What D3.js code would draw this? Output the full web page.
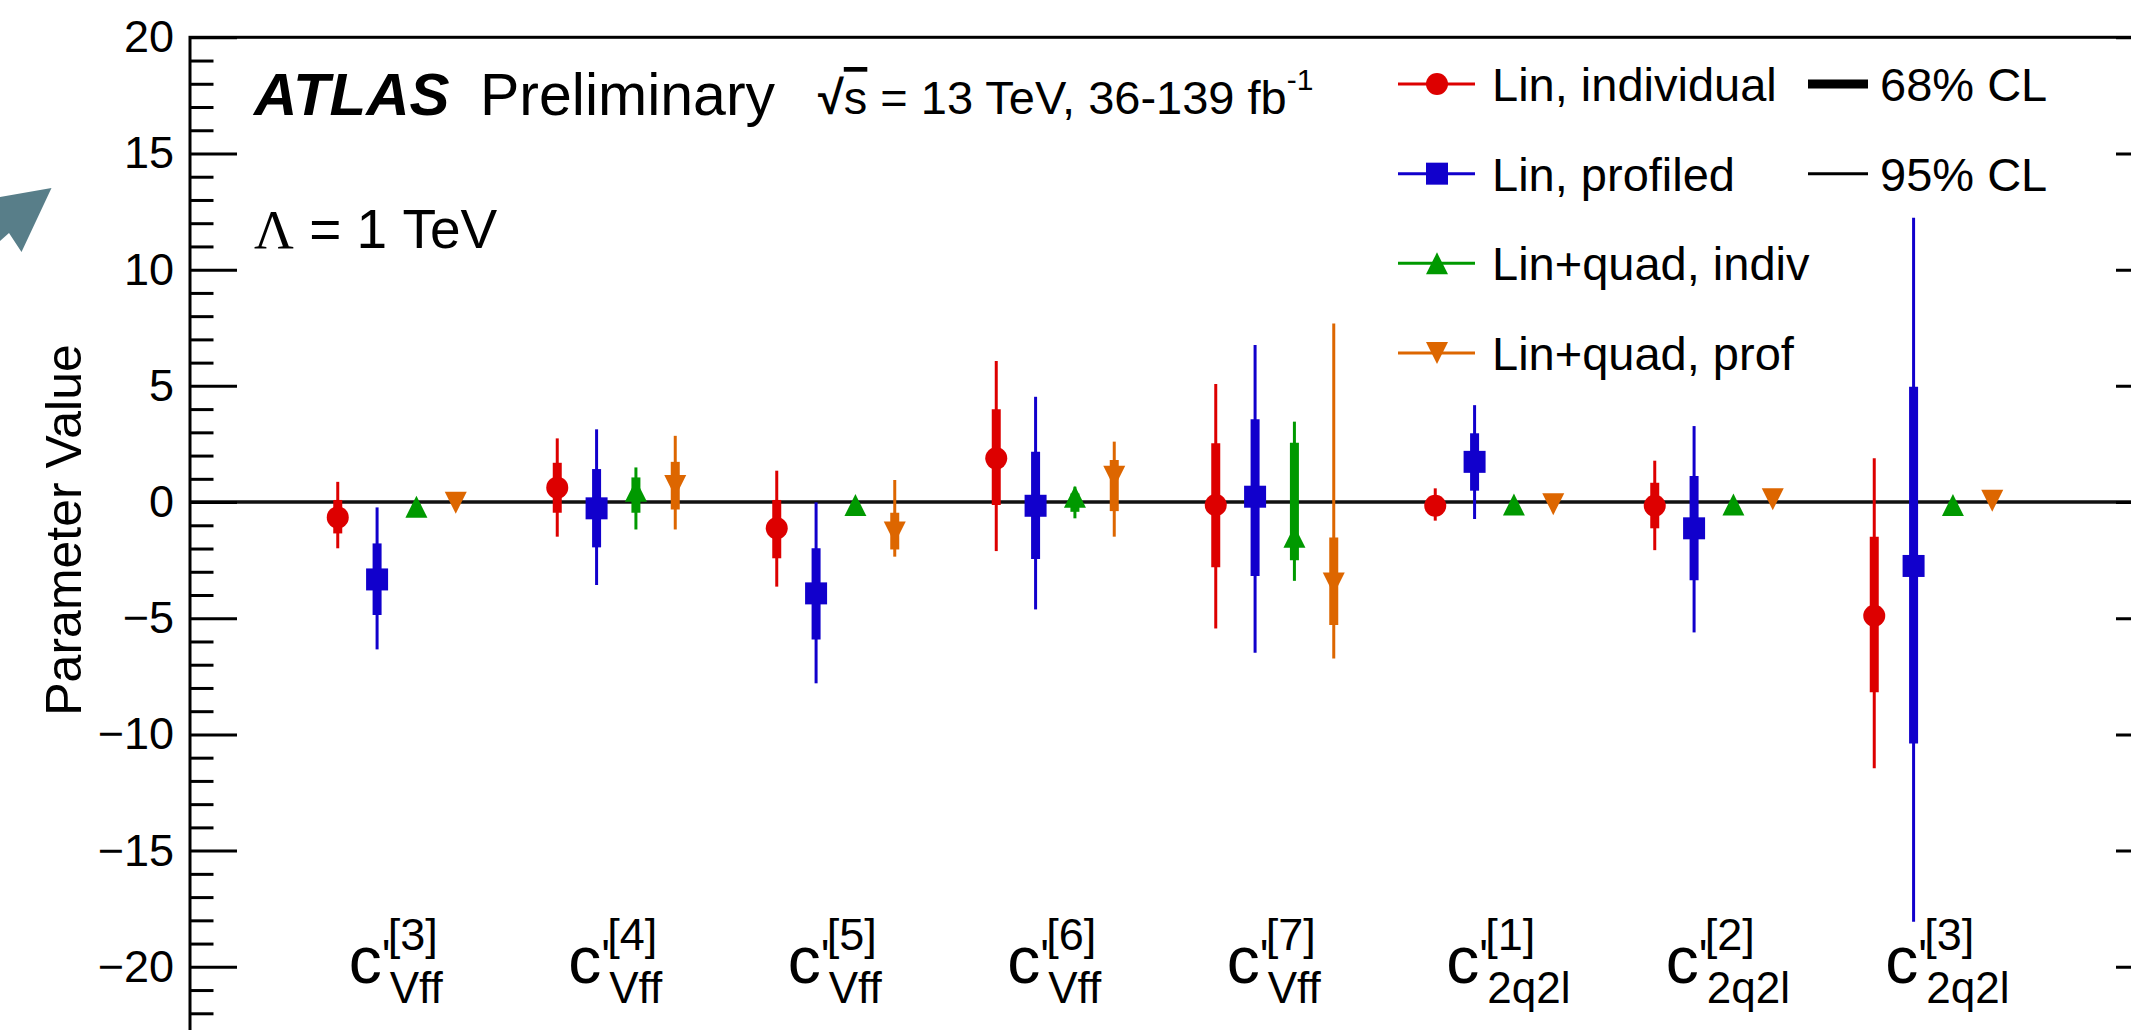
<!DOCTYPE html>
<html>
<head>
<meta charset="utf-8">
<script src="https://cdn.jsdelivr.net/npm/d3@7"></script>
<style>
  body { margin: 0; background: #fff; }
  svg { display: block; font-family: "Liberation Sans", Arial, Helvetica, sans-serif; }
</style>
</head>
<body>
<script>
// categories (x axis bins)
const categories = ["Vff3", "Vff4", "Vff5", "Vff6", "Vff7", "2q2l1", "2q2l2", "2q2l3"];
const labelSup = ["[3]", "[4]", "[5]", "[6]", "[7]", "[1]", "[2]", "[3]"];
const labelSub = ["Vff", "Vff", "Vff", "Vff", "Vff", "2q2l", "2q2l", "2q2l"];

const seriesNames = ["Lin, individual", "Lin, profiled", "Lin+quad, indiv", "Lin+quad, prof"];

// Lin, individual
const linIndiv   = [-0.66, 0.62, -1.13, 1.88, -0.13, -0.16, -0.16, -4.89];
const linIndiv68 = [[-1.35, 0.09], [-0.46, 1.69], [-2.42, 0.09], [-0.13, 3.99], [-2.81, 2.53], [-0.45, 0.15], [-1.13, 0.83], [-8.19, -1.49]];
const linIndiv95 = [[-1.99, 0.87], [-1.49, 2.74], [-3.64, 1.35], [-2.11, 6.07], [-5.44, 5.08], [-0.80, 0.59], [-2.07, 1.78], [-11.46, 1.88]];

// Lin, profiled
const linProf   = [-3.33, -0.27, -3.93, -0.16, 0.23, 1.73, -1.13, -2.75];
const linProf68 = [[-4.86, -1.78], [-1.95, 1.42], [-5.91, -1.99], [-2.45, 2.17], [-3.18, 3.56], [0.49, 2.96], [-3.36, 1.12], [-10.39, 4.96]];
const linProf95 = [[-6.34, -0.23], [-3.57, 3.13], [-7.80, -0.01], [-4.62, 4.53], [-6.49, 6.76], [-0.73, 4.17], [-5.61, 3.27], [-18.06, 12.24]];

// Lin+quad, indiv
const quadIndiv   = [-0.20, 0.49, -0.13, 0.23, -1.49, -0.11, -0.11, -0.13];
const quadIndiv68 = [[-0.30, -0.10], [-0.46, 1.06], [-0.25, 0.00], [-0.42, 0.37], [-2.50, 2.55], [-0.20, 0.00], [-0.20, 0.00], [-0.20, 0.00]];
const quadIndiv95 = [[-0.35, -0.05], [-1.18, 1.49], [-0.35, 0.10], [-0.70, 0.66], [-3.39, 3.46], [-0.25, 0.05], [-0.25, 0.05], [-0.25, 0.05]];

// Lin+quad, prof
const quadProf   = [-0.03, 0.69, -1.31, 1.09, -3.50, -0.09, 0.12, 0.06];
const quadProf68 = [[-0.10, 0.05], [-0.32, 1.73], [-2.04, -0.46], [-0.39, 1.81], [-5.29, -1.52], [-0.15, 0.00], [0.05, 0.20], [0.00, 0.12]];
const quadProf95 = [[-0.15, 0.10], [-1.18, 2.85], [-2.35, 0.95], [-1.49, 2.60], [-6.73, 7.68], [-0.20, 0.05], [0.00, 0.25], [-0.05, 0.17]];

const majorTicks = [-20, -15, -10, -5, 0, 5, 10, 15, 20];

const colors = ["#dd0000", "#1100cc", "#009900", "#dd6600"];

// ROOT style triangles (width == height)
const triUp = {
  draw(ctx, size) {
    const h = Math.sqrt(size) / 2;
    ctx.moveTo(0, -h); ctx.lineTo(h, h); ctx.lineTo(-h, h); ctx.closePath();
  }
};
const triDown = {
  draw(ctx, size) {
    const h = Math.sqrt(size) / 2;
    ctx.moveTo(0, h); ctx.lineTo(h, -h); ctx.lineTo(-h, -h); ctx.closePath();
  }
};
const symbols = [
  d3.symbol().type(d3.symbolCircle).size(Math.PI * 11 * 11),
  d3.symbol().type(d3.symbolSquare).size(22 * 22),
  d3.symbol().type(triUp).size(22 * 22),
  d3.symbol().type(triDown).size(22 * 22)
];

const series = [
  {name: seriesNames[0], val: linIndiv,  c68: linIndiv68,  c95: linIndiv95},
  {name: seriesNames[1], val: linProf,   c68: linProf68,   c95: linProf95},
  {name: seriesNames[2], val: quadIndiv, c68: quadIndiv68, c95: quadIndiv95},
  {name: seriesNames[3], val: quadProf,  c68: quadProf68,  c95: quadProf95}
];

const width = 2131, height = 1030;
const frame = {left: 190, top: 37.3, right: 2163, bottom: 1083};

const svg = d3.select("body").append("svg")
    .attr("width", width)
    .attr("height", height);

svg.append("rect").attr("width", width).attr("height", height).attr("fill", "#fff");

// scales
const y = d3.scaleLinear().domain([-25, 20]).range([frame.bottom, frame.top]);
const x = d3.scaleBand().domain(categories).range([287, 2043]);
const xOff = d3.scalePoint().domain(seriesNames).range([-59, 59]);

// teal arrow fragment on the left edge
svg.append("path")
    .attr("d", "M0,197 L51.5,188 L21.5,252 L9,233 L0,241 Z")
    .attr("fill", "#587e89");

// zero line
svg.append("line")
    .attr("x1", frame.left).attr("x2", frame.right)
    .attr("y1", y(0)).attr("y2", y(0))
    .attr("stroke", "#111").attr("stroke-width", 3.5);

// axes
const minorVals = d3.range(-25, 21).filter(v => v % 5 !== 0);

const leftMajor = svg.append("g")
    .attr("transform", `translate(${frame.left},0)`)
    .call(d3.axisLeft(y).tickValues(majorTicks).tickSize(-47).tickPadding(16));
const leftMinor = svg.append("g")
    .attr("transform", `translate(${frame.left},0)`)
    .call(d3.axisLeft(y).tickValues(minorVals).tickSize(-23.5).tickFormat(""));
const rightMajor = svg.append("g")
    .attr("transform", `translate(${frame.right},0)`)
    .call(d3.axisRight(y).tickValues(majorTicks).tickSize(-47).tickFormat(""));
const rightMinor = svg.append("g")
    .attr("transform", `translate(${frame.right},0)`)
    .call(d3.axisRight(y).tickValues(minorVals).tickSize(-23.5).tickFormat(""));

[leftMajor, leftMinor, rightMajor, rightMinor].forEach(g => {
  g.select(".domain").remove();
  g.selectAll(".tick line").attr("stroke", "#000").attr("stroke-width", 3);
});
leftMajor.selectAll(".tick text")
    .attr("font-size", 45)
    .attr("font-family", "Liberation Sans, Arial, sans-serif")
    .attr("fill", "#000");

// frame
svg.append("rect")
    .attr("x", frame.left).attr("y", frame.top)
    .attr("width", frame.right - frame.left)
    .attr("height", frame.bottom - frame.top)
    .attr("fill", "none")
    .attr("stroke", "#000")
    .attr("stroke-width", 3);

// y axis title
svg.append("text")
    .attr("transform", "translate(81,530) rotate(-90)")
    .attr("text-anchor", "middle")
    .attr("font-size", 50)
    .text("Parameter Value");

// error bars + markers
const points = series.flatMap((s, si) => categories.map((c, i) => ({
  si, name: s.name, cat: c, v: s.val[i],
  lo68: s.c68[i][0], hi68: s.c68[i][1],
  lo95: s.c95[i][0], hi95: s.c95[i][1]
})));
const px = d => x(d.cat) + x.bandwidth() / 2 + xOff(d.name);

const gs = svg.selectAll(".series").data(series).enter().append("g").attr("class", "series");
gs.each(function(s, si) {
  const g = d3.select(this);
  const pts = points.filter(p => p.si === si);
  g.selectAll(".e95").data(pts).enter().append("line")
      .attr("x1", px).attr("x2", px)
      .attr("y1", d => y(d.lo95)).attr("y2", d => y(d.hi95))
      .attr("stroke", colors[si]).attr("stroke-width", 3);
  g.selectAll(".e68").data(pts).enter().append("line")
      .attr("x1", px).attr("x2", px)
      .attr("y1", d => y(d.lo68)).attr("y2", d => y(d.hi68))
      .attr("stroke", colors[si]).attr("stroke-width", 9);
  g.selectAll(".mk").data(pts).enter().append("path")
      .attr("transform", d => `translate(${px(d)},${y(d.v)})`)
      .attr("d", symbols[si]())
      .attr("fill", colors[si]);
});

// category labels c'^{[n]}_{sub}
categories.forEach((c, i) => {
  const cx = x(c) + x.bandwidth() / 2;
  const g = svg.append("g").attr("transform", `translate(${cx - 48},0)`);
  const t = g.append("text").attr("x", 0).attr("y", 983).attr("font-size", 66);
  t.append("tspan").text("c");
  t.append("tspan").attr("font-size", 46).attr("dy", -11).text("'");
  g.append("text").attr("x", 39).attr("y", 950).attr("font-size", 45).text(labelSup[i]);
  g.append("text").attr("x", 41).attr("y", 1003).attr("font-size", 44).text(labelSub[i]);
});

// ATLAS label
svg.append("text")
    .attr("x", 254).attr("y", 115)
    .attr("font-size", 60)
    .attr("font-weight", "bold")
    .attr("font-style", "italic")
    .text("ATLAS");
svg.append("text")
    .attr("x", 480).attr("y", 115)
    .attr("font-size", 59)
    .text("Preliminary");

const energy = svg.append("text")
    .attr("x", 818).attr("y", 114)
    .attr("font-size", 47);
energy.append("tspan").attr("font-weight", "bold").text("\u221A");
energy.append("tspan").style("text-decoration", "overline").text("s");
energy.append("tspan").text(" = 13 TeV, 36-139 fb");
energy.append("tspan").attr("dy", -24).attr("font-size", 30).text("-1");

const lam = svg.append("text")
    .attr("x", 254).attr("y", 248)
    .attr("font-size", 55);
lam.append("tspan").attr("font-family", "Liberation Serif, Times New Roman, serif").text("\u039B");
lam.append("tspan").text(" = 1 TeV");

// legend
const legRowY = d3.scalePoint().domain(seriesNames).range([84, 353]);
const leg = svg.append("g");
series.forEach((s, si) => {
  const ly = legRowY(s.name);
  leg.append("line")
      .attr("x1", 1398).attr("x2", 1475)
      .attr("y1", ly).attr("y2", ly)
      .attr("stroke", colors[si]).attr("stroke-width", 3);
  leg.append("path")
      .attr("transform", `translate(1437,${ly})`)
      .attr("d", symbols[si]())
      .attr("fill", colors[si]);
  leg.append("text")
      .attr("x", 1492).attr("y", ly).attr("dy", "0.36em")
      .attr("font-size", 47)
      .text(s.name);
});

const clLabels = ["68% CL", "95% CL"];
const clWidths = [9, 3];
clLabels.forEach((l, i) => {
  const ly = legRowY(seriesNames[i]);
  leg.append("line")
      .attr("x1", 1808).attr("x2", 1868)
      .attr("y1", ly).attr("y2", ly)
      .attr("stroke", "#000").attr("stroke-width", clWidths[i]);
  leg.append("text")
      .attr("x", 1880).attr("y", ly).attr("dy", "0.36em")
      .attr("font-size", 47)
      .text(l);
});
</script>
</body>
</html>
